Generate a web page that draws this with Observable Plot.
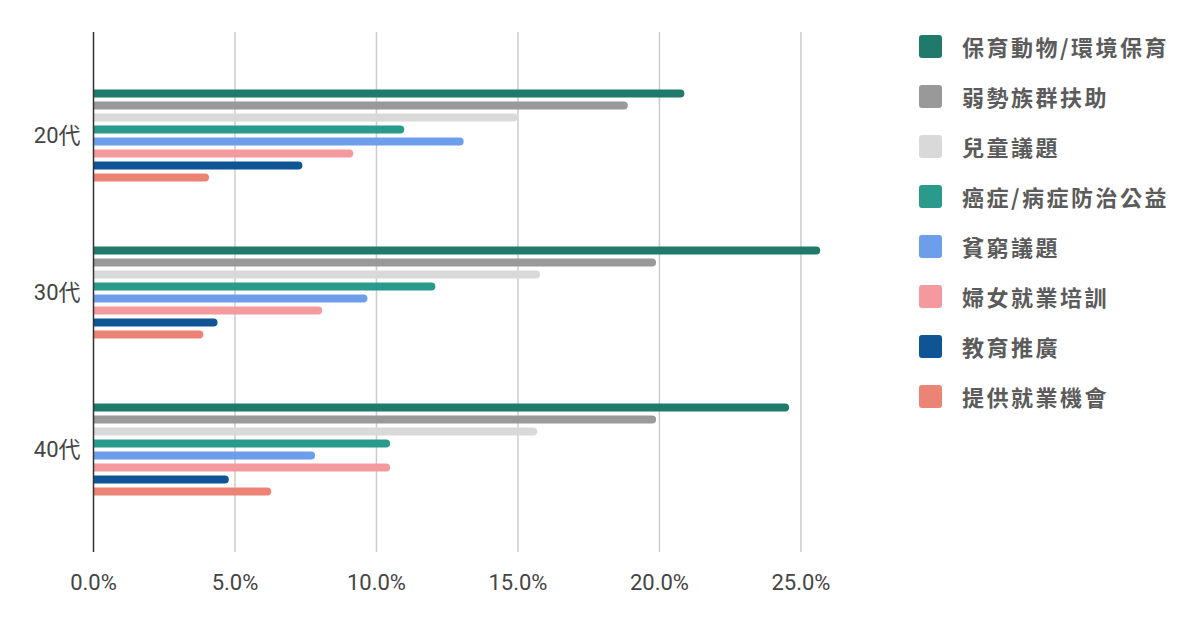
<!DOCTYPE html>
<html><head><meta charset="utf-8">
<script src="https://cdn.jsdelivr.net/npm/d3@7"></script>
<script src="https://cdn.jsdelivr.net/npm/@observablehq/plot@0.6"></script>
<style>
body{margin:0;background:#fff;width:1200px;height:628px;overflow:hidden;position:relative;font-family:Roboto,"Noto Sans CJK TC",sans-serif}
#chart{position:absolute;left:0;top:0}
#legend{position:absolute;left:919px;top:35px}
.item{display:flex;align-items:center;height:23px;margin-bottom:27px}
.sw{width:23px;height:23px;border-radius:3px;margin-right:20px;flex:none}
.lb{font-family:"Noto Sans CJK TC",sans-serif;font-weight:bold;font-size:22px;letter-spacing:2.5px;color:#5b5b5b;white-space:nowrap;line-height:23px}
</style></head><body>
<div id="chart"></div><div id="legend"></div>
<script>
const ageGroups = ["20代", "30代", "40代"];
const categories = ["保育動物/環境保育", "弱勢族群扶助", "兒童議題", "癌症/病症防治公益", "貧窮議題", "婦女就業培訓", "教育推廣", "提供就業機會"];
const colors = ["#1f7a6b", "#999999", "#d9d9d9", "#2a9a8a", "#6d9eeb", "#f4999d", "#0f5596", "#ec8476"];
const values20 = [0.209, 0.189, 0.150, 0.110, 0.131, 0.092, 0.074, 0.041];
const values30 = [0.257, 0.199, 0.158, 0.121, 0.097, 0.081, 0.044, 0.039];
const values40 = [0.246, 0.199, 0.157, 0.105, 0.0785, 0.105, 0.048, 0.063];
const xTicks = [0, 0.05, 0.10, 0.15, 0.20, 0.25];

const series = [values20, values30, values40];
const rows = [];
ageGroups.forEach((g, gi) => categories.forEach((c, ci) => rows.push({group: g, category: c, value: series[gi][ci]})));

const barMarks = categories.map((c, ci) =>
  Plot.ruleY(rows.filter(d => d.category === c), {
    y: "group", x1: 0, x2: "value",
    stroke: colors[ci], strokeWidth: 8, strokeLinecap: "round",
    dy: (ci - 3.5) * 12, dx: -4, clip: true
  })
);

const chart = Plot.plot({
  width: 857, height: 628,
  marginLeft: 93, marginRight: 0, marginTop: 32, marginBottom: 76,
  style: {fontSize: "22px", fontFamily: "Roboto, 'Noto Sans CJK TC', sans-serif", color: "#444", background: "#fff"},
  x: {domain: [0, 0.27], ticks: xTicks, tickFormat: d => (d * 100).toFixed(1) + "%", tickSize: 0, tickPadding: 22, label: null},
  y: {type: "point", domain: ageGroups, padding: 0.656, tickSize: 0, tickPadding: 13, label: null},
  marks: [
    Plot.ruleX(xTicks.slice(1), {stroke: "#cccccc", strokeWidth: 1.5}),
    ...barMarks,
    Plot.ruleX([0], {stroke: "#333", strokeWidth: 1.5})
  ]
});
document.getElementById("chart").appendChild(chart);

const legend = document.getElementById("legend");
categories.forEach((c, i) => {
  const item = document.createElement("div");
  item.className = "item";
  const sw = document.createElement("div");
  sw.className = "sw"; sw.style.background = colors[i];
  const lb = document.createElement("div");
  lb.className = "lb"; lb.textContent = c;
  item.appendChild(sw); item.appendChild(lb);
  legend.appendChild(item);
});
</script>
</body></html>
